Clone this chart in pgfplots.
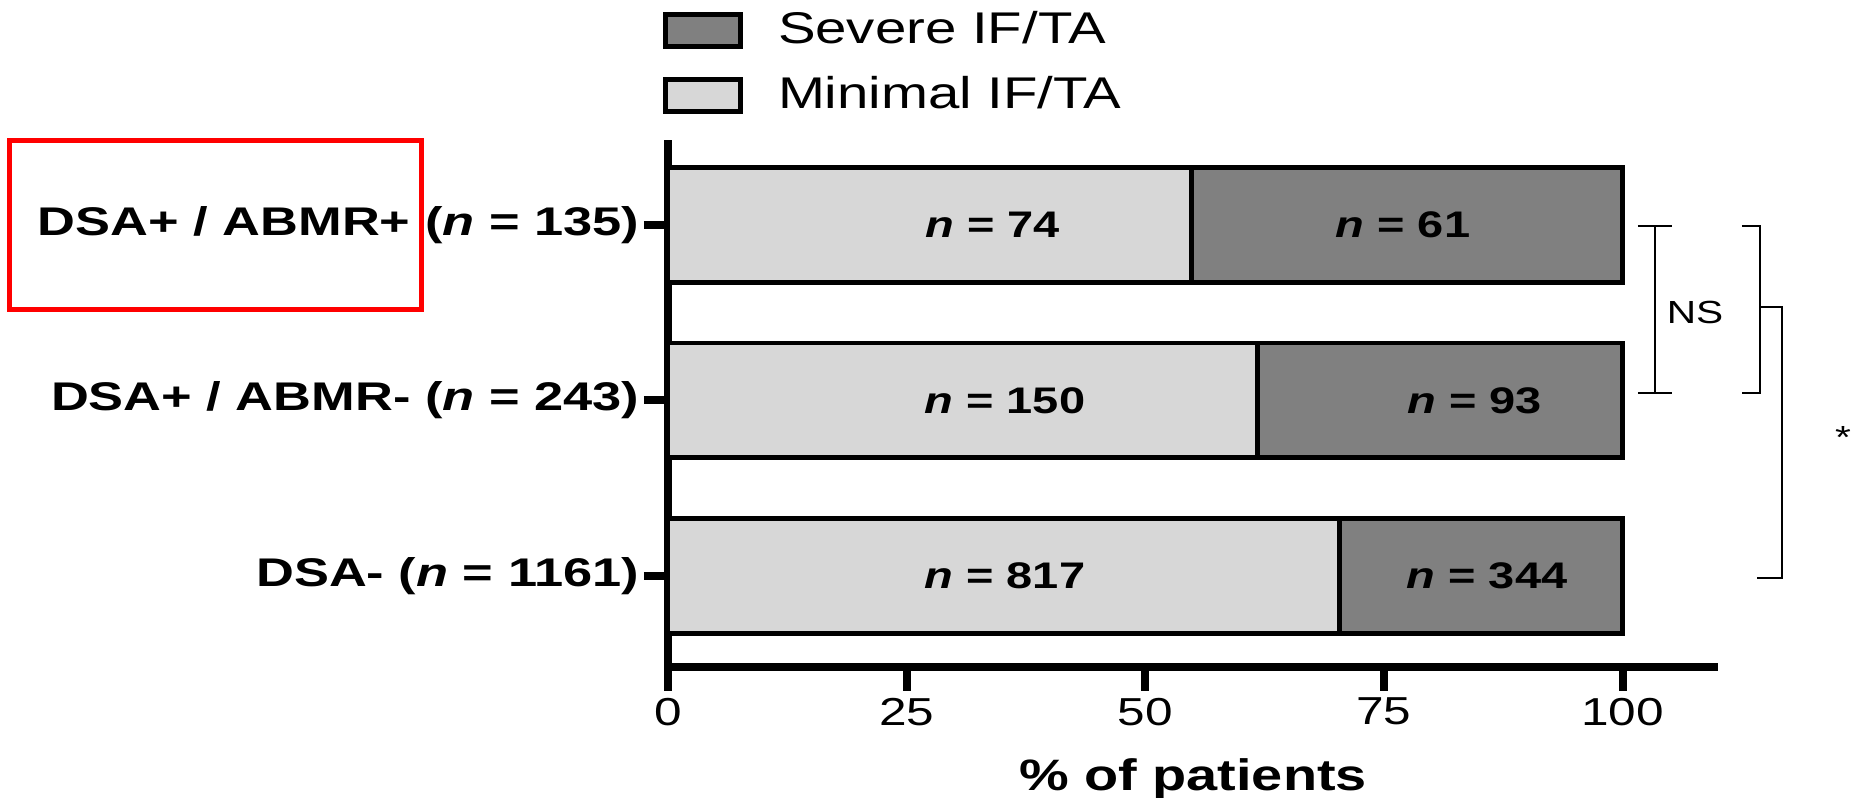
\documentclass[border=0pt]{standalone}
\usepackage{fontspec}
\setmainfont{Liberation Sans}[FakeStretch=1.27]
\newfontfamily\catfont{Liberation Sans}[FakeStretch=1.31]
\usepackage{pgfplots}
\pgfplotsset{compat=1.18}
\definecolor{lightbar}{RGB}{215,215,215}
\definecolor{darkbar}{RGB}{128,128,128}
\newcommand{\barfont}{\bfseries\fontsize{9.25}{10}\selectfont}
\begin{document}
\begin{tikzpicture}
\begin{axis}[
  scale only axis, width=262.5pt, height=131.75pt,
  xbar stacked, bar width=0.655,
  xmin=0, xmax=110, ymin=-0.52, ymax=2.485,
  axis x line=bottom, axis y line=left,
  axis line style={line width=2pt, -},
  xtick={0,25,50,75,100},
  ytick={0,1,2},
  yticklabels={{DSA- (\textit{n} = 1161)},{DSA+ / ABMR- (\textit{n} = 243)},{DSA+ / ABMR+ (\textit{n} = 135)}},
  tick align=outside,
  major tick length=6pt,
  tick style={line width=2pt, black},
  /pgf/number format/assume math mode=true,
  x tick label style={font=\fontsize{9.75}{10}\selectfont, inner ysep=1.5pt},
  y tick label style={font=\catfont\bfseries\fontsize{10}{11}\selectfont, inner xsep=1pt},
  xlabel={\textbf{\% of patients}},
  xlabel style={font=\fontsize{11}{12}\selectfont, at={(axis description cs:0.5,0)}, anchor=north, inner sep=0pt, yshift=-22.75pt},
  clip=false,
  legend cell align=left,
  legend style={at={(-0.0057,1.26)}, anchor=north west, draw=none, fill=none, inner sep=0pt,
    font=\fontsize{11.1}{12}\selectfont, row sep=2.5pt,
    /tikz/every odd column/.append style={column sep=6.8pt}},
]
\addlegendimage{legend image code/.code={\draw[fill=darkbar, draw=black, line width=1.25pt] (0pt,-4pt) rectangle (18.75pt,4pt);}}
\addlegendentry{Severe IF/TA}
\addlegendimage{legend image code/.code={\draw[fill=lightbar, draw=black, line width=1.25pt] (0pt,-4pt) rectangle (18.75pt,4pt);}}
\addlegendentry{Minimal IF/TA}
\addplot[fill=lightbar, draw=black, line width=1.2pt, forget plot]
  coordinates {(70.37,0) (61.73,1) (54.81,2)};
\addplot[fill=darkbar, draw=black, line width=1.2pt, forget plot]
  coordinates {(29.63,0) (38.27,1) (45.19,2)};

\coordinate (L1) at (axis cs:34.0,2);
\coordinate (L2) at (axis cs:77.0,2);
\coordinate (L3) at (axis cs:35.3,1);
\coordinate (L4) at (axis cs:84.5,1);
\coordinate (L5) at (axis cs:35.3,0);
\coordinate (L6) at (axis cs:85.8,0);

\draw[line width=0.6pt] (axis cs:103.4,1.994) -- (axis cs:103.4,1.043);
\draw[line width=0.6pt] (axis cs:101.6,1.994) -- (axis cs:105.2,1.994);
\draw[line width=0.6pt] (axis cs:101.6,1.043) -- (axis cs:105.2,1.043);
\node[font=\fontsize{8}{9}\selectfont] at (axis cs:107.6,1.499) {NS};
\draw[line width=0.6pt] (axis cs:112.5,1.994) -- (axis cs:114.4,1.994) -- (axis cs:114.4,1.043) -- (axis cs:112.5,1.043);
\draw[line width=0.6pt] (axis cs:114.4,1.533) -- (axis cs:116.7,1.533) -- (axis cs:116.7,-0.011) -- (axis cs:114.1,-0.011);
\node[font=\fontsize{8}{9}\selectfont] at (axis cs:123.1,0.79) {*};

\draw[red, line width=1.25pt] (axis cs:-69.0,2.484) rectangle (axis cs:-25.8,1.516);
\end{axis}
\node[font=\barfont] at (L1) {\textit{n} = 74};
\node[font=\barfont] at (L2) {\textit{n} = 61};
\node[font=\barfont] at (L3) {\textit{n} = 150};
\node[font=\barfont] at (L4) {\textit{n} = 93};
\node[font=\barfont] at (L5) {\textit{n} = 817};
\node[font=\barfont] at (L6) {\textit{n} = 344};
\pgfresetboundingbox
\useasboundingbox (-167pt,-32.75pt) rectangle (297.5pt,166.75pt);
\end{tikzpicture}
\end{document}
